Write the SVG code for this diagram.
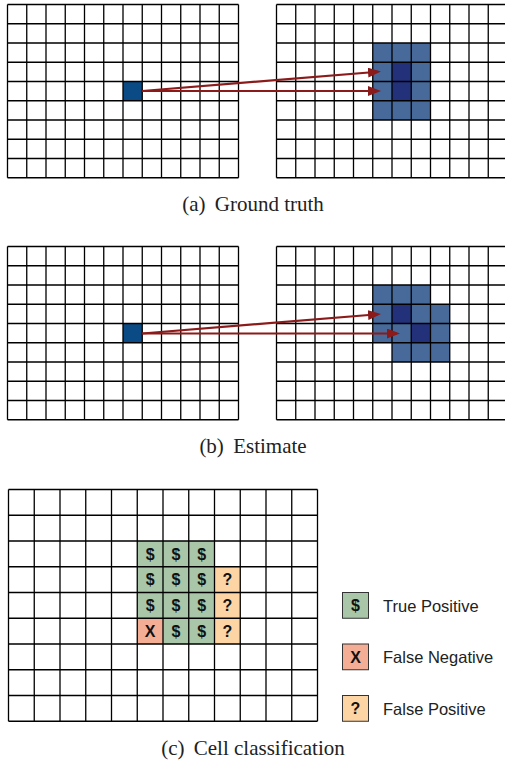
<svg xmlns="http://www.w3.org/2000/svg" width="505" height="761" viewBox="0 0 505 761">
<style>
.grid{fill:none;stroke:#000;stroke-width:1.3}
.lt{fill:#476a9a}
.dk{fill:#23307a}
.src{fill:#0a4b85}
.tp{fill:#a9c7a8}
.fn{fill:#f4ae96}
.fp{fill:#fdd5a5}
.sym{font-family:"Liberation Sans",Arial,sans-serif;font-weight:bold;font-size:16px;text-anchor:middle;fill:#111}
.cap{font-family:"Liberation Serif","Times New Roman",serif;font-size:21px;text-anchor:middle;fill:#222}
.leg{font-family:"Liberation Sans",Arial,sans-serif;font-size:16.5px;fill:#222}
.lbox{stroke:#333;stroke-width:1}
.arr{fill:none;stroke:#8b1a1a;stroke-width:2.2}
</style>
<defs>
<path id="g19" d="M0 0V173.25M19.25 0V173.25M38.5 0V173.25M57.75 0V173.25M77 0V173.25M96.25 0V173.25M115.5 0V173.25M134.75 0V173.25M154 0V173.25M173.25 0V173.25M192.5 0V173.25M211.75 0V173.25M231 0V173.25M0 0H231M0 19.25H231M0 38.5H231M0 57.75H231M0 77H231M0 96.25H231M0 115.5H231M0 134.75H231M0 154H231M0 173.25H231"/>
<path id="g26" d="M0 0V231.75M25.75 0V231.75M51.5 0V231.75M77.25 0V231.75M103 0V231.75M128.75 0V231.75M154.5 0V231.75M180.25 0V231.75M206 0V231.75M231.75 0V231.75M257.5 0V231.75M283.25 0V231.75M309 0V231.75M0 0H309M0 25.75H309M0 51.5H309M0 77.25H309M0 103H309M0 128.75H309M0 154.5H309M0 180.25H309M0 206H309M0 231.75H309"/>
<marker id="ah" viewBox="0 0 13 10" refX="10" refY="5" markerWidth="13" markerHeight="10" markerUnits="userSpaceOnUse" orient="auto">
<path d="M0 0L13 5L0 10z" fill="#8b1a1a"/>
</marker>
</defs>

<g id="gt-source">
<rect class="src" x="123" y="81.5" width="19.25" height="19.25"/>
<use href="#g19" class="grid" x="7.5" y="4.5"/>
</g>
<g id="gt-target">
<rect class="lt" x="372.75" y="43" width="57.75" height="77"/>
<rect class="dk" x="392" y="62.25" width="19.25" height="38.5"/>
<use href="#g19" class="grid" x="276.5" y="4.5"/>
</g>
<text id="cap-a" class="cap" x="253" y="211">(a)<tspan dx="4"> Ground truth</tspan></text>

<g id="est-source">
<rect class="src" x="123" y="323.5" width="19.25" height="19.25"/>
<use href="#g19" class="grid" x="7.5" y="246.5"/>
</g>
<g id="est-target">
<rect class="lt" x="372.75" y="285" width="57.75" height="19.25"/>
<rect class="lt" x="372.75" y="304.25" width="77" height="38.5"/>
<rect class="lt" x="392" y="342.75" width="57.75" height="19.25"/>
<rect class="dk" x="392" y="304.25" width="19.25" height="19.25"/>
<rect class="dk" x="411.25" y="323.5" width="19.25" height="19.25"/>
<use href="#g19" class="grid" x="276.5" y="246.5"/>
</g>
<text id="cap-b" class="cap" x="253" y="453">(b)<tspan dx="4"> Estimate</tspan></text>

<g id="classification">
<rect class="tp" x="137.25" y="541" width="77.25" height="77.25"/>
<rect class="tp" x="163" y="618.25" width="51.5" height="25.75"/>
<rect class="fn" x="137.25" y="618.25" width="25.75" height="25.75"/>
<rect class="fp" x="214.5" y="566.75" width="25.75" height="77.25"/>
<use href="#g26" class="grid" x="8.5" y="489.5"/>
<text class="sym" x="150.1" y="559.7">$</text>
<text class="sym" x="175.9" y="559.7">$</text>
<text class="sym" x="201.6" y="559.7">$</text>
<text class="sym" x="150.1" y="585.4">$</text>
<text class="sym" x="175.9" y="585.4">$</text>
<text class="sym" x="201.6" y="585.4">$</text>
<text class="sym" x="227.4" y="585.4">?</text>
<text class="sym" x="150.1" y="611.2">$</text>
<text class="sym" x="175.9" y="611.2">$</text>
<text class="sym" x="201.6" y="611.2">$</text>
<text class="sym" x="227.4" y="611.2">?</text>
<text class="sym" x="150.1" y="636.9">X</text>
<text class="sym" x="175.9" y="636.9">$</text>
<text class="sym" x="201.6" y="636.9">$</text>
<text class="sym" x="227.4" y="636.9">?</text>
</g>

<g id="legend-tp">
<rect class="tp lbox" x="342.5" y="592.5" width="26" height="25.75"/>
<text class="sym" x="355.5" y="611.2">$</text>
<text class="leg" x="383" y="611.5">True Positive</text>
</g>
<g id="legend-fn">
<rect class="fn lbox" x="342.5" y="644" width="26" height="25.75"/>
<text class="sym" x="355.5" y="662.7">X</text>
<text class="leg" x="383" y="663">False Negative</text>
</g>
<g id="legend-fp">
<rect class="fp lbox" x="342.5" y="695.5" width="26" height="25.75"/>
<text class="sym" x="355.5" y="714.2">?</text>
<text class="leg" x="383" y="714.5">False Positive</text>
</g>
<text id="cap-c" class="cap" x="253" y="755">(c)<tspan dx="4"> Cell classification</tspan></text>

<g id="connectors">
<line class="arr" x1="142.25" y1="91" x2="378" y2="71.75" marker-end="url(#ah)"/>
<line class="arr" x1="142.25" y1="91" x2="378" y2="91" marker-end="url(#ah)"/>
<line class="arr" x1="142.25" y1="333.5" x2="378" y2="314.25" marker-end="url(#ah)"/>
<line class="arr" x1="142.25" y1="333.5" x2="397" y2="333.5" marker-end="url(#ah)"/>
</g>
</svg>
